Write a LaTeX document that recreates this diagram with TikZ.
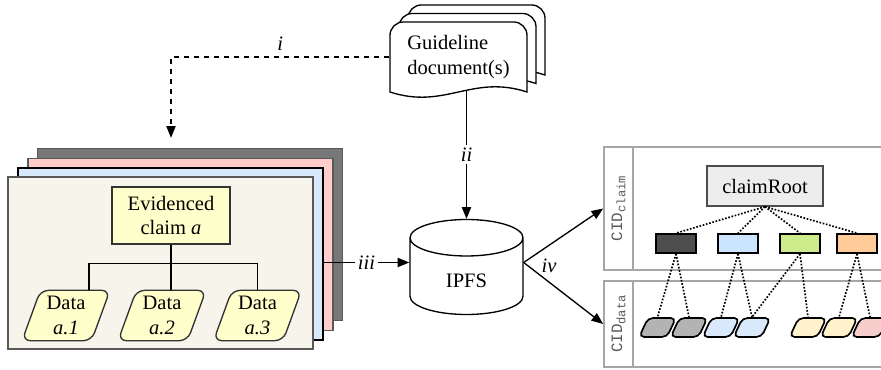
\documentclass[tikz,border=0pt]{standalone}
\usepackage{fontspec}
\setmainfont{Liberation Serif}
\setmonofont{Liberation Mono}
\usetikzlibrary{shapes.geometric,arrows.meta,positioning}

\definecolor{cfront}{HTML}{F7F4EC}
\definecolor{cblue}{HTML}{DAE8FC}
\definecolor{cpink}{HTML}{FFCCCC}
\definecolor{cdark}{HTML}{777777}
\definecolor{cyel}{HTML}{FFFFCC}
\definecolor{kdk}{HTML}{4D4D4D}
\definecolor{kbl}{HTML}{CCE5FF}
\definecolor{kgr}{HTML}{CDEB8B}
\definecolor{kor}{HTML}{FFCC99}
\definecolor{bgy}{HTML}{B3B3B3}
\definecolor{byl}{HTML}{FFF2CC}
\definecolor{bpk}{HTML}{F8CECC}

\tikzset{itl/.style = {font=\fontsize{12.3}{14.6}\selectfont\itshape},
  lbl/.style = {itl, fill=white, inner sep=1.5pt}}

\begin{document}
\begin{tikzpicture}[x=.6pt, y=-.6pt, thick, font=\fontsize{12.3}{14.6}\selectfont,
    >={Triangle[length=7pt,width=5.5pt]},
    card/.style={draw=black!65, minimum width=183pt, minimum height=103.2pt},
    data/.style={trapezium, trapezium left angle=70, trapezium right angle=110,
      rounded corners=5pt, draw=black!80, fill=cyel, minimum width=52.8pt,
      minimum height=28.2pt, inner sep=0pt, align=center},
    panel/.style={draw=black!35, line width=1pt, inner sep=0pt},
    cbox/.style={draw, line width=1pt, minimum width=24pt, minimum height=11.4pt, inner sep=0pt},
    blob/.style={trapezium, trapezium left angle=65, trapezium right angle=115,
      rounded corners=3pt, draw, line width=1pt, minimum width=17.4pt,
      minimum height=11.4pt, inner sep=2pt},
    link/.style={densely dotted, line width=1pt}]
  \clip (0,0) rectangle (881,370);

  % stack of claim cards
  \node[card, fill=cdark] (c3) at (190,234.5) {};
  \node[card, fill=cpink] (c2) at (180.5,244.5) {};
  \node[card, fill=cblue, draw=black] (c1) at (170.5,254) {};
  \node[card, fill=cfront] (c0) at (160.5,263) {};

  \node[draw=black!80, fill=cyel, minimum width=70.8pt, minimum height=34.2pt,
    align=center] (claim) at (171,215.5) {Evidenced\\claim \textit{a}};
  \node[data] (d1) at (66,315.5) {Data\\\textit{a.1}};
  \node[data] (d2) at (162,315.5) {Data\\\textit{a.2}};
  \node[data] (d3) at (257.5,315.5) {Data\\\textit{a.3}};
  \draw (claim.south) -- ++(0,19) coordinate (fork);
  \draw ([xshift=13.8pt]d1.north) |- (fork -| d3.north) -- (d3.north);
  \draw (fork) -- (fork |- d2.north);

  % guideline documents
  \foreach \s in {2,1,0} {
    \begin{scope}[shift={(9*\s,-8.5*\s)}]
      \draw[fill=white] (390,92) [rounded corners=8pt]-- (390,22) -- (527,22)
        [sharp corners]-- (527,92) .. controls (472,74) and (445,110) .. (390,92) -- cycle;
    \end{scope}
  }
  \node[align=left, minimum width=82.2pt, minimum height=39.6pt, inner sep=0pt]
    (guide) at (458.5,57) {Guideline\\document(s)};

  \node[cylinder, shape border rotate=90, aspect=.7, draw, minimum width=67.8pt,
    minimum height=57pt, anchor=shape center] (ipfs) at (466.5,267) {IPFS};
  \path (ipfs.shape center) ++(0,-4.5) coordinate (mid);

  \path (claim |- c3.north) ++(0,-10) coordinate (itip);
  \draw[->, dashed] (guide.west) -| (itip) node[itl, pos=.25, above] {i};
  \draw[->] (guide.south -| ipfs.north) -- (ipfs.north) node[lbl, midway] {ii};
  \draw[->] (mid -| c1.east) -- (mid -| ipfs.west) node[lbl, midway] {iii};

  % content-addressed trees
  \node[panel, minimum width=177.6pt, minimum height=73.8pt] (pclaim) at (752,208.5) {};
  \node[panel, minimum width=177.6pt, minimum height=51.6pt] (pdata) at (752,324) {};
  \node[panel, rotate=90, minimum width=73.8pt, minimum height=17.4pt,
    font=\fontsize{9.5}{11}\ttfamily, text=black!65] (lclaim) at (618.5,208.5)
    {CID\raisebox{-2pt}{\fontsize{7.3}{8}\selectfont claim}};
  \node[panel, rotate=90, minimum width=51.6pt, minimum height=17.4pt,
    font=\fontsize{9.5}{11}\ttfamily, text=black!65] (ldata) at (618.5,324)
    {CID\raisebox{-2pt}{\fontsize{7.3}{8}\selectfont data}};

  \coordinate (split) at (mid -| ipfs.east);
  \draw[->] (split) -- (pclaim.west);
  \draw[->] (split) -- (pdata.west);
  \node[itl, right=7pt of split, yshift=-2pt] (iv) {iv};

  \node[draw=black!70, fill=black!7, minimum width=69.6pt, minimum height=24pt]
    (root) at (765,186) {claimRoot};
  \foreach \n/\x/\c in {1/676/kdk, 2/738/kbl, 3/800/kgr, 4/857/kor}
    \node[cbox, fill=\c] (k\n) at (\x,243.5) {};
  \foreach \n/\x/\c in {1/657.5/bgy, 2/689/bgy, 3/721/cblue, 4/752/cblue,
      5/808/byl, 6/839/byl, 7/870/bpk}
    \node[blob, fill=\c] (b\n) at (\x,327.5) {};
  \foreach \n in {1,...,4}
    \draw[link] (root.south) -- (k\n.north);
  \foreach \a/\b in {1/1, 1/2, 2/3, 2/4, 3/4, 3/5, 4/6, 4/7}
    \draw[link] (k\a.south) -- (b\b.north);
\end{tikzpicture}
\end{document}
